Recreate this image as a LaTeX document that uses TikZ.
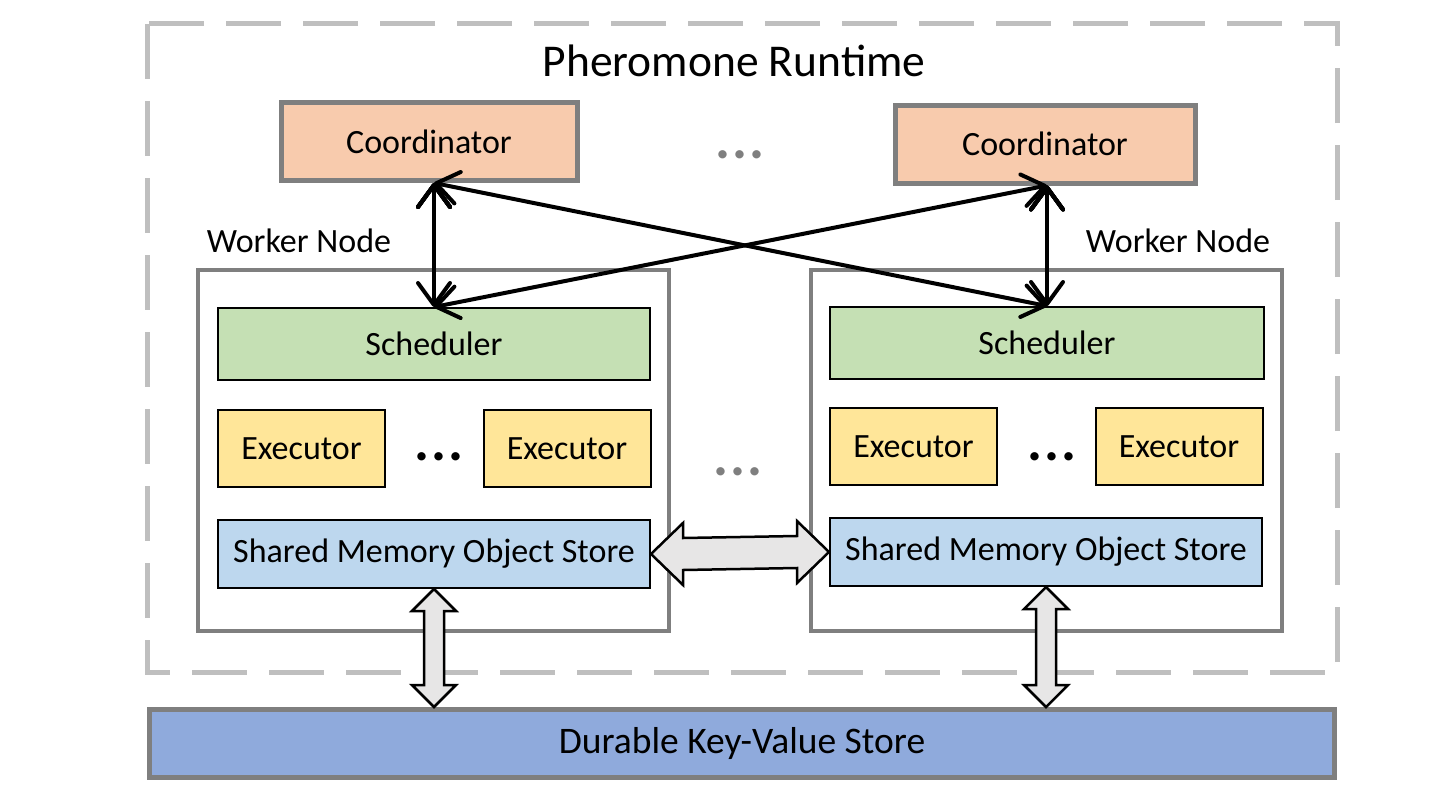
\documentclass[tikz,border=0pt]{standalone}
\usepackage{fontspec}
\setmainfont{Carlito}
\usetikzlibrary{arrows.meta,calc}
\definecolor{coordfill}{HTML}{F8CBAD}
\definecolor{schedfill}{HTML}{C5E0B4}
\definecolor{execfill}{HTML}{FFE699}
\definecolor{storefill}{HTML}{BDD7EE}
\definecolor{kvfill}{HTML}{8FAADC}
\definecolor{framegray}{HTML}{7F7F7F}
\definecolor{dashgray}{HTML}{BFBFBF}
\definecolor{arrowfill}{HTML}{E7E6E6}
\newcommand{\dotsrow}{.\hspace{2pt}.\hspace{2pt}.}
\begin{document}
\begin{tikzpicture}[x=1pt,y=-1pt]
	\tikzset{box/.style = {draw,line width=2pt,inner sep=0pt,font=\fontsize{34}{40}\selectfont}}
	\tikzset{coordbox/.style = {box,draw=framegray,line width=5pt,fill=coordfill,minimum width=296pt,minimum height=78pt}}
	\tikzset{worker/.style = {draw=framegray,line width=4pt,minimum width=471pt,minimum height=361pt}}
	\tikzset{sched/.style = {box,fill=schedfill,minimum width=432pt,minimum height=72pt}}
	\tikzset{exec/.style = {box,fill=execfill,minimum width=167pt,minimum height=77pt}}
	\tikzset{store/.style = {box,fill=storefill,minimum width=432pt,minimum height=68pt}}
	\tikzset{label/.style = {font=\fontsize{34}{40}\selectfont}}
	\tikzset{dots/.style = {font=\fontsize{56}{60}\bfseries,inner sep=0pt}}
	\tikzset{edge/.style = {<->,>={Straight Barb[length=22pt,width=32pt,round]},line width=4pt}}
	\tikzset{blockarrow/.style = {draw,line width=2.5pt,line join=miter,fill=arrowfill}}
	\useasboundingbox (0,0) rectangle (1440,792);
	% runtime frame
	\draw[dashgray,line width=5pt,dash pattern=on 55pt off 22pt] (147,24) rectangle (1337,672);
	\node[font=\fontsize{45.5}{52}\selectfont] (title) at (734,61) {Pheromone Runtime};
	% coordinators
	\node[coordbox] (coord1) at (429,141.5) {Coordinator};
	\node[coordbox,minimum width=300pt] (coord2) at (1045,144) {Coordinator};
	\node[dots,framegray] (cdots) at (740,155) {\dotsrow};
	% worker nodes
	\node[worker] (work1) at (433,450.5) {};
	\node[worker] (work2) at (1046,450.5) {};
	\node[label] (wlabel1) at (299,241) {Worker Node};
	\node[label] (wlabel2) at (1178,241) {Worker Node};
	\node[dots,framegray] (wdots) at (738,472) {\dotsrow};
	\node[sched] (sched1) at (434,344) {Scheduler};
	\node[sched,minimum width=434pt] (sched2) at (1047,343) {Scheduler};
	\node[exec] (exec11) at (301.5,448.5) {Executor};
	\node[exec] (exec12) at (567,448.5) {Executor};
	\node[dots] (edots1) at (439,457) {\dotsrow};
	\node[exec] (exec21) at (913.5,446.5) {Executor};
	\node[exec] (exec22) at (1179,446.5) {Executor};
	\node[dots] (edots2) at (1052,457) {\dotsrow};
	\node[store] (store1) at (434,554) {Shared Memory Object Store};
	\node[store] (store2) at (1046,552) {Shared Memory Object Store};
	% durable store
	\node[box,draw=framegray,line width=5pt,fill=kvfill,minimum width=1185pt,minimum height=68pt,font=\fontsize{37.5}{44}\selectfont] (kv) at (742,743.5) {Durable Key-Value Store};
	% control arrows
	\coordinate (top1) at (sched1.north |- coord1.south);
	\coordinate (top2) at (sched2.north |- coord2.south);
	\path[draw,edge] (top1) edge (sched1.north);
	\path[draw,edge] (top2) edge (sched2.north);
	\path[draw,edge] (top1) edge (sched2.north);
	\path[draw,edge] (top2) edge (sched1.north);
	% data arrows
	\draw[blockarrow] (store1.east) -- ++(32,-31) -- ++(0,15) -- ($(store2.west)+(-32,-16)$) -- ++(0,-15) -- (store2.west)
		-- ++(-32,31) -- ++(0,-15) -- ($(store1.east)+(32,16)$) -- ++(0,15) -- cycle;
	\draw[blockarrow] (store1.south) -- ++(22,22) -- ++(-12,0) -- ($(store1.south |- kv.north)+(10,-22)$) -- ++(12,0)
		-- (store1.south |- kv.north) -- ++(-22,-22) -- ++(12,0) -- ($(store1.south)+(-10,22)$) -- ++(-12,0) -- cycle;
	\draw[blockarrow] (store2.south) -- ++(22,22) -- ++(-12,0) -- ($(store2.south |- kv.north)+(10,-22)$) -- ++(12,0)
		-- (store2.south |- kv.north) -- ++(-22,-22) -- ++(12,0) -- ($(store2.south)+(-10,22)$) -- ++(-12,0) -- cycle;
\end{tikzpicture}
\end{document}
